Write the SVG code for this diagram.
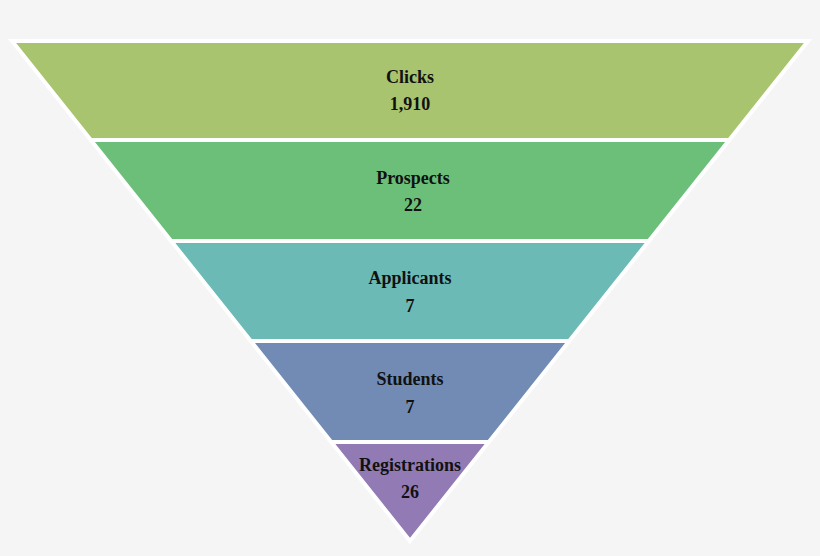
<svg xmlns="http://www.w3.org/2000/svg" width="820" height="556" viewBox="0 0 820 556">
<style>
.b{stroke:#fff;stroke-width:4;stroke-linejoin:miter}
text{font-family:"Liberation Serif",serif;font-weight:bold;font-size:18px;fill:#111;text-anchor:middle}
</style>
<rect width="820" height="556" fill="#f5f5f5"/>
<g id="clicks"><polygon class="b" fill="#a9c46e" points="12,41 808,41 729.2,140 90.8,140"/><text x="410" y="83">Clicks</text><text x="410" y="110">1,910</text></g>
<g id="prospects"><polygon class="b" fill="#6bbf78" points="90.8,140 729.2,140 648.8,241 171.2,241"/><text x="413" y="184">Prospects</text><text x="413" y="211">22</text></g>
<g id="applicants"><polygon class="b" fill="#6bbab5" points="171.2,241 648.8,241 569.2,341 250.8,341"/><text x="410" y="284">Applicants</text><text x="410" y="312">7</text></g>
<g id="students"><polygon class="b" fill="#718bb5" points="250.8,341 569.2,341 488.8,442 331.2,442"/><text x="410" y="385">Students</text><text x="410" y="413">7</text></g>
<g id="registrations"><polygon class="b" fill="#927bb5" points="331.2,442 488.8,442 410,541"/><text x="410" y="471">Registrations</text><text x="410" y="498">26</text></g>
<g id="connectors"/>
</svg>
